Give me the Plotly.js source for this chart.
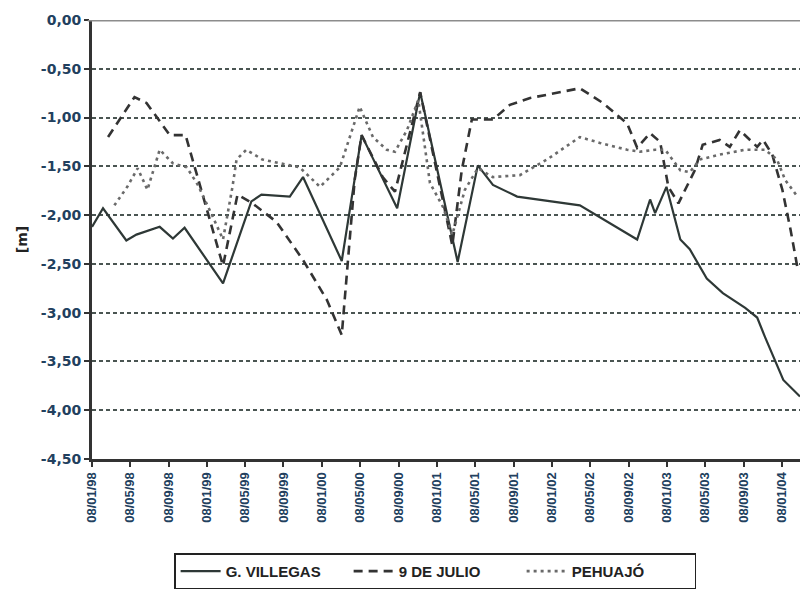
<!DOCTYPE html>
<html>
<head>
<meta charset="utf-8">
<script src="https://cdn.plot.ly/plotly-3.0.1.min.js"></script>
<style>
  html, body { margin: 0; padding: 0; background: #ffffff; }
  #chart { width: 800px; height: 590px; }
</style>
</head>
<body>
<div id="chart"></div>
<script>
// Series names
const seriesNames = ["G. VILLEGAS", "9 DE JULIO", "PEHUAJÓ"];

// G. VILLEGAS – dates and water table depth [m]
const villegasDates = [
  "1998-01-08","1998-02-12","1998-04-27","1998-05-29","1998-08-11","1998-09-22","1998-10-29",
  "1999-02-28","1999-05-29","1999-06-30","1999-09-28","1999-11-09",
  "2000-03-11","2000-05-13","2000-09-03","2000-11-15",
  "2001-03-14","2001-05-17","2001-07-04","2001-09-19",
  "2002-04-06","2002-10-05","2002-11-15","2002-12-01",
  "2003-01-06","2003-02-19","2003-03-21","2003-05-14","2003-07-04","2003-09-13","2003-10-21","2003-11-15",
  "2004-01-12","2004-03-05"
];
const villegasLevels = [
  -2.12,-1.93,-2.26,-2.20,-2.12,-2.24,-2.13,
  -2.70,-1.86,-1.79,-1.81,-1.61,
  -2.47,-1.18,-1.93,-0.74,
  -2.48,-1.49,-1.69,-1.81,
  -1.90,-2.25,-1.84,-1.98,
  -1.71,-2.25,-2.35,-2.65,-2.80,-2.95,-3.05,-3.25,
  -3.69,-3.86
];

// 9 DE JULIO
const julioDates = [
  "1998-02-28","1998-05-23","1998-06-30","1998-09-12","1998-11-01",
  "1999-02-28","1999-04-15","1999-06-02","1999-08-17","1999-11-09",
  "2000-01-24","2000-03-11","2000-04-21","2000-05-13","2000-07-19","2000-08-27","2000-11-15",
  "2001-02-25","2001-03-27","2001-04-28","2001-07-04","2001-08-27","2001-10-30",
  "2002-04-06","2002-06-18","2002-09-03","2002-10-05","2002-11-15","2002-12-17",
  "2003-01-12","2003-02-13","2003-04-06","2003-05-01","2003-06-24","2003-07-26","2003-08-27",
  "2003-10-21","2003-11-09","2003-12-08",
  "2004-01-09","2004-02-04","2004-02-26"
];
const julioLevels = [
  -1.20,-0.79,-0.85,-1.18,-1.18,
  -2.52,-1.79,-1.88,-2.07,-2.46,
  -2.87,-3.23,-1.64,-1.18,-1.61,-1.76,-0.74,
  -2.31,-1.54,-1.02,-1.02,-0.87,-0.80,
  -0.70,-0.85,-1.06,-1.31,-1.16,-1.25,
  -1.71,-1.88,-1.54,-1.28,-1.23,-1.30,-1.13,
  -1.30,-1.23,-1.38,
  -1.74,-2.15,-2.54
];

// PEHUAJÓ
const pehuajoDates = [
  "1998-03-20","1998-04-30","1998-06-02","1998-07-03","1998-08-11","1998-09-22","1998-11-05","1998-12-10",
  "1999-01-27","1999-02-28","1999-03-30","1999-04-12","1999-05-13","1999-07-03","1999-09-28","1999-10-29",
  "2000-01-02","2000-03-05","2000-05-07","2000-06-18","2000-08-01","2000-08-27","2000-10-04","2000-11-09","2000-12-16",
  "2001-01-27","2001-02-25","2001-04-06","2001-05-17","2001-07-04","2001-09-28","2001-12-23",
  "2002-04-06","2002-06-09","2002-09-03","2002-10-14","2002-12-01",
  "2003-01-02","2003-02-19","2003-03-21","2003-04-22","2003-06-24","2003-09-13","2003-11-15","2003-12-23",
  "2004-01-18","2004-02-26"
];
const pehuajoLevels = [
  -1.90,-1.71,-1.52,-1.74,-1.33,-1.47,-1.51,-1.69,
  -2.02,-2.25,-1.71,-1.43,-1.33,-1.43,-1.49,-1.51,
  -1.71,-1.51,-0.89,-1.20,-1.33,-1.35,-1.13,-0.82,-1.67,
  -1.92,-2.20,-1.74,-1.52,-1.61,-1.59,-1.43,
  -1.20,-1.26,-1.33,-1.35,-1.33,
  -1.33,-1.54,-1.56,-1.43,-1.38,-1.33,-1.33,-1.43,
  -1.64,-1.81
];

// Axis settings
const xRange = ["1998-01-08", "2004-03-05"];
const xTick0 = "1998-01-08";
const yRange = [-4.5, 0];
const yTickValues = [0, -0.5, -1, -1.5, -2, -2.5, -3, -3.5, -4, -4.5];
const yTickLabels = ["0,00", "-0,50", "-1,00", "-1,50", "-2,00", "-2,50", "-3,00", "-3,50", "-4,00", "-4,50"];
const yTitle = "[m]";

const labelColor = "#22405e";

const traces = [
  {
    x: villegasDates, y: villegasLevels, name: seriesNames[0],
    type: "scatter", mode: "lines",
    line: { color: "#2e3836", width: 2.2 }
  },
  {
    x: julioDates, y: julioLevels, name: seriesNames[1],
    type: "scatter", mode: "lines",
    line: { color: "#333333", width: 2.6, dash: "9px,6px" }
  },
  {
    x: pehuajoDates, y: pehuajoLevels, name: seriesNames[2],
    type: "scatter", mode: "lines",
    line: { color: "#6a6a6a", width: 2.6, dash: "3px,4px" }
  }
];

const layout = {
  width: 800, height: 590,
  margin: { l: 92, r: 0, t: 20, b: 131 },
  paper_bgcolor: "#ffffff",
  plot_bgcolor: "#ffffff",
  showlegend: true,
  legend: {
    orientation: "h",
    x: 0.116, xanchor: "left",
    y: -0.297, yanchor: "bottom",
    bgcolor: "#ffffff",
    bordercolor: "#222222", borderwidth: 1.5,
    font: { family: "Liberation Sans, Arial, sans-serif", size: 15, color: "#222222", weight: "bold" },
    itemwidth: 40,
    entrywidth: 118,
    entrywidthmode: "pixels",
    tracegroupgap: 0
  },
  xaxis: {
    type: "date",
    range: xRange,
    tick0: xTick0,
    dtick: "M4",
    tickformat: "%d/%m/%y",
    tickangle: -90,
    automargin: false,
    ticks: "outside", ticklen: 5, tickwidth: 2, tickcolor: "#333333",
    showgrid: false,
    showline: true, linecolor: "#333333", linewidth: 3,
    zeroline: false,
    tickfont: { family: "Liberation Sans, Arial, sans-serif", size: 13, color: labelColor, weight: "bold" }
  },
  yaxis: {
    range: yRange,
    tickmode: "array",
    tickvals: yTickValues,
    ticktext: yTickLabels,
    automargin: false,
    ticks: "outside", ticklen: 5, tickwidth: 2, tickcolor: "#333333",
    showline: true, linecolor: "#333333", linewidth: 3,
    showgrid: true, gridcolor: "#4a5552", gridwidth: 2, griddash: "4px,3px",
    zeroline: false,
    tickfont: { family: "DejaVu Sans, sans-serif", size: 14, color: labelColor, weight: "bold" },
    title: {
      text: yTitle,
      standoff: 10,
      font: { family: "DejaVu Sans, sans-serif", size: 14, color: "#222222", weight: "bold" }
    }
  },
  shapes: [
    {
      type: "line", xref: "paper", yref: "y",
      x0: -0.006, x1: 1, y0: 0, y1: 0,
      line: { color: "#8c8c8c", width: 3 }
    }
  ]
};

Plotly.newPlot("chart", traces, layout, { staticPlot: true, displayModeBar: false });
</script>
</body>
</html>
